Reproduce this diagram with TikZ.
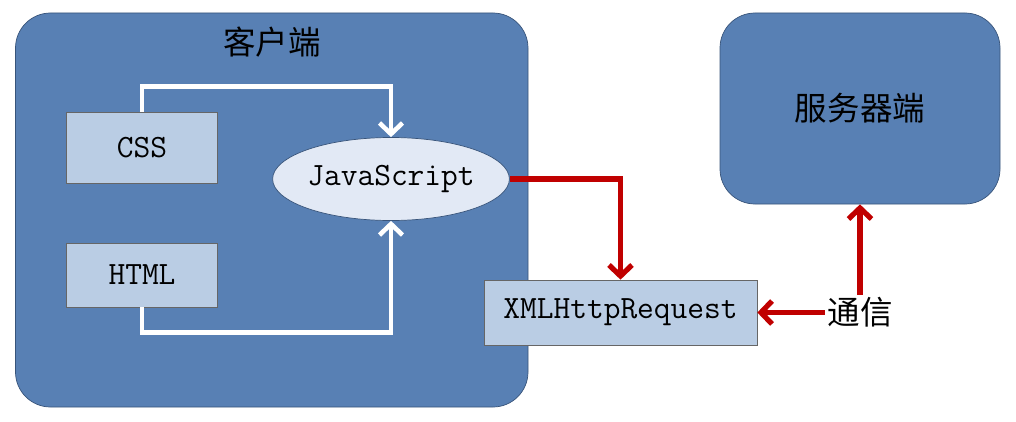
\documentclass[tikz,border=0pt]{standalone}
\usepackage{fontspec}
\usepackage{xcolor}
\usepackage{tikz}
\usetikzlibrary{arrows.meta,positioning,calc,shapes.geometric}
\newfontfamily\cjk{Noto Sans CJK SC}
\definecolor{clientblue}{RGB}{88,128,180}
\definecolor{edgeblue}{RGB}{56,84,122}
\definecolor{paleblue}{RGB}{186,205,228}
\definecolor{iceblue}{RGB}{226,233,245}
\definecolor{linkred}{RGB}{192,0,0}
\tikzset{
  endbox/.style={draw=edgeblue,fill=clientblue,rounded corners=0.7cm,inner sep=0pt},
  srcbox/.style={draw=black!60,fill=paleblue,inner sep=0pt,font=\ttfamily\fontsize{18.5}{21}\selectfont},
  whitelink/.style={white,line width=2.6pt,-{Straight Barb[length=2.2mm,width=4.6mm]}},
  redlink/.style={linkred,line width=3pt,-{Straight Barb[length=2.2mm,width=4.6mm]}},
  cjklabel/.style={font=\cjk\fontsize{18.5}{22}\selectfont}
}
\begin{document}
\begin{tikzpicture}
\useasboundingbox (0,0) rectangle (20.32,8.42);
% client side
\node[endbox,minimum width=10.25cm,minimum height=7.88cm] (client) at (5.435,4.22) {};
\node[cjklabel] (title) at (5.44,7.58) {客户端};
\node[srcbox,minimum width=3.02cm,minimum height=1.42cm] (css) at (2.84,5.46) {CSS};
\node[srcbox,minimum width=3.02cm,minimum height=1.28cm] (html) at (2.84,2.92) {HTML};
\node[ellipse,draw=edgeblue,fill=iceblue,inner sep=0pt,minimum width=4.54cm,minimum height=1.66cm,
  font=\ttfamily\fontsize{18.5}{21}\selectfont] (js) at (7.82,4.84) {JavaScript};
\draw[whitelink] (css.north) -- ++(0,0.51) -| (js.north);
\draw[whitelink] (html.south) -- ++(0,-0.5) -| (js.south);
% server side
\node[endbox,cjklabel,minimum width=5.6cm,minimum height=3.82cm] (server) at (17.2,6.25) {服务器端};
\node[srcbox,minimum width=5.46cm,minimum height=1.3cm] (xhr) at (12.41,2.17) {XMLHttpRequest};
\node[cjklabel,inner sep=1.5pt] (comm) at (server |- xhr) {通信};
\draw[redlink] (js.east) -| (xhr.north);
\draw[redlink] (comm.west) -- (xhr.east);
\draw[redlink] (comm.north) -- (server.south);
\end{tikzpicture}
\end{document}
